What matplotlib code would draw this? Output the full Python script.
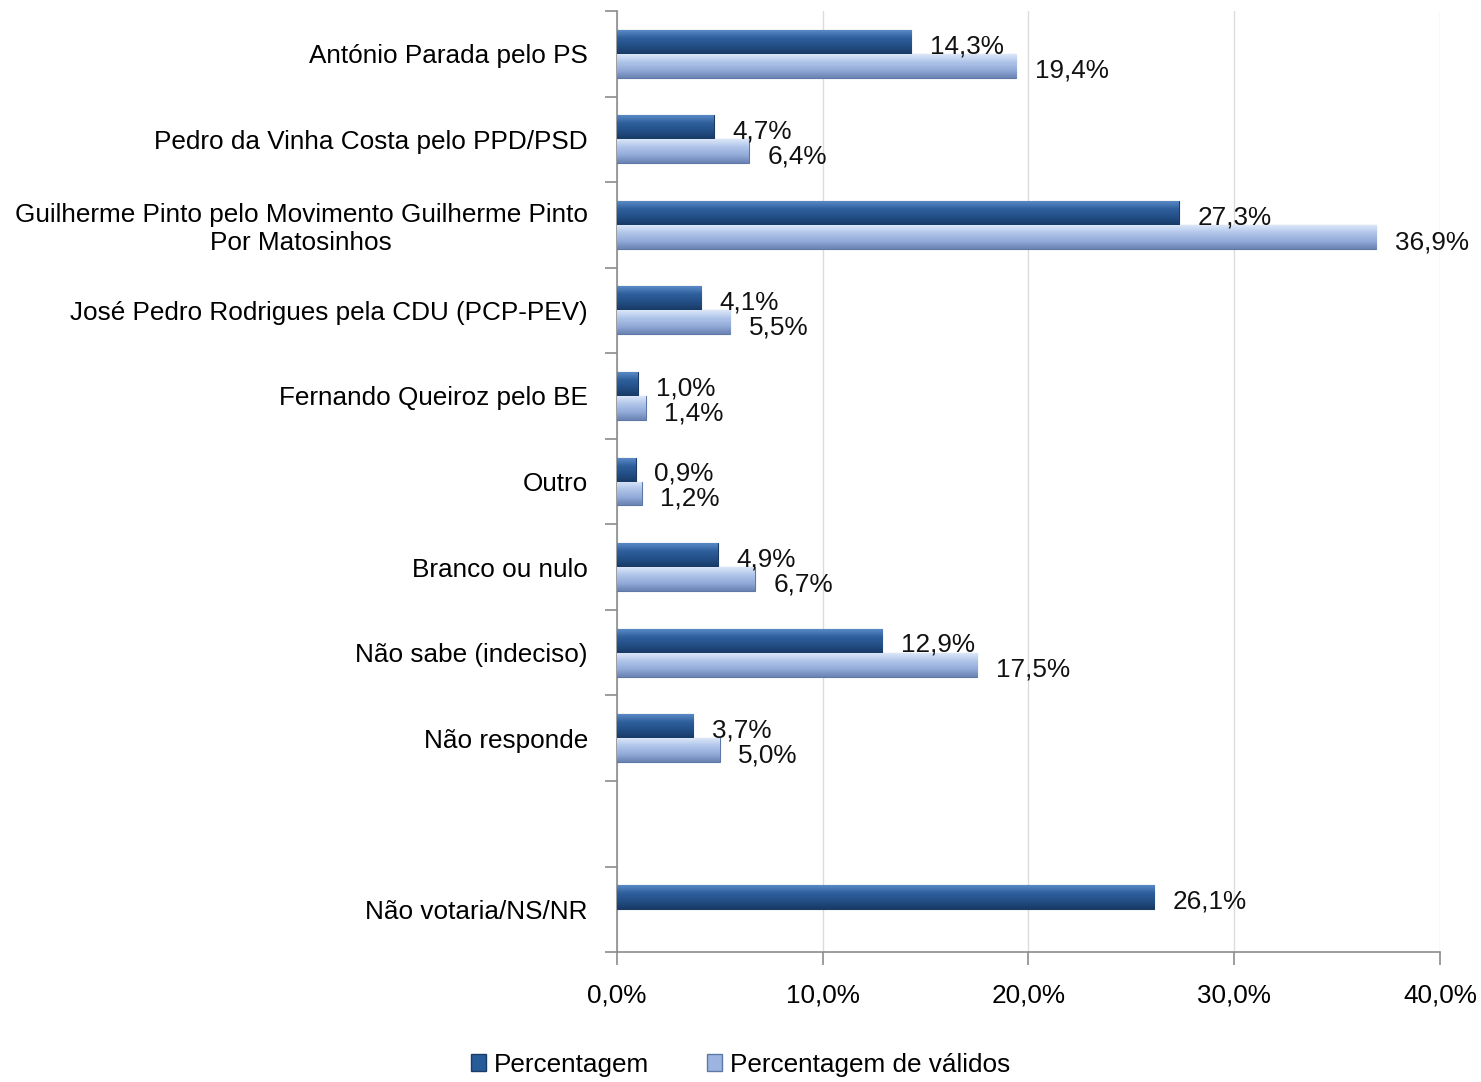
import numpy as np
import matplotlib
matplotlib.use("Agg")
import matplotlib.pyplot as plt
from matplotlib.colors import LinearSegmentedColormap
from matplotlib.patches import Patch
from matplotlib.ticker import FixedLocator, FuncFormatter

plt.rcParams["font.family"] = ["Liberation Sans Narrow", "Liberation Sans", "DejaVu Sans"]

categories = [
    "António Parada pelo PS",
    "Pedro da Vinha Costa pelo PPD/PSD",
    "Guilherme Pinto pelo Movimento Guilherme Pinto\nPor Matosinhos",
    "José Pedro Rodrigues pela CDU (PCP-PEV)",
    "Fernando Queiroz pelo BE",
    "Outro",
    "Branco ou nulo",
    "Não sabe (indeciso)",
    "Não responde",
    "",
    "Não votaria/NS/NR",
]
percentagem = [14.3, 4.7, 27.3, 4.1, 1.0, 0.9, 4.9, 12.9, 3.7, np.nan, 26.1]
validos = [19.4, 6.4, 36.9, 5.5, 1.4, 1.2, 6.7, 17.5, 5.0, np.nan, np.nan]
xticks = [0, 10, 20, 30, 40]

DARK = "#285C99"
LIGHT = "#9DB4E0"
dark_cmap = LinearSegmentedColormap.from_list(
    "dark", ["#5A8AC6", "#2E5F9C", "#234F86", "#183A66"])
light_cmap = LinearSegmentedColormap.from_list(
    "light", ["#DCE7F8", "#AFC4EA", "#93ABD9", "#6A83B2"])
AXIS = "#8C8C8C"
GRID = "#DCDCDC"
FS = 18.8

fig = plt.figure(figsize=(14.81, 10.82), dpi=100)
ax = fig.add_axes([0.4166, 0.1201, 0.9723 - 0.4166, 0.9898 - 0.1201])

y = np.arange(len(categories))
h = 0.28
grad = np.linspace(0, 1, 64).reshape(-1, 1)


def draw(values, offset, color, cmap, edge, dy):
    for yi, v in zip(y, values):
        if np.isnan(v):
            continue
        bar = ax.barh(yi + offset, v, height=h, color=color, edgecolor=edge,
                      linewidth=0.8, zorder=3)[0]
        y0, y1 = yi + offset - h / 2, yi + offset + h / 2
        im = ax.imshow(grad, extent=[0, v, y1, y0], aspect="auto", cmap=cmap,
                       zorder=3.5, interpolation="bicubic")
        im.set_clip_path(bar)
        ax.text(v + 0.9, yi + offset + dy, f"{v:.1f}%".replace(".", ","),
                va="center", ha="left", fontsize=FS, color="#111111", zorder=5)


draw(percentagem, -h / 2, DARK, dark_cmap, "#1B3C66", 0.05)
draw(validos, h / 2, LIGHT, light_cmap, "#5D77A6", 0.06)

ax.set_xlim(0, 40)
ax.set_ylim(len(categories) - 0.5, -0.5)

ax.set_yticks(y)
ax.set_yticklabels(categories, fontsize=FS, multialignment="center")
ax.tick_params(axis="y", which="major", length=0, pad=21)
ax.yaxis.set_minor_locator(FixedLocator(np.arange(-0.5, len(categories), 1.0)))
ax.tick_params(axis="y", which="minor", length=9, color=AXIS, width=1.2)

ax.set_xticks(xticks)
ax.xaxis.set_major_formatter(FuncFormatter(lambda v, p: f"{v:.1f}%".replace(".", ",")))
ax.tick_params(axis="x", length=9, color=AXIS, width=1.2, labelsize=FS, pad=14)
ax.xaxis.grid(True, color=GRID, linewidth=1.0, zorder=0)
ax.set_axisbelow(True)

for s in ("top", "right"):
    ax.spines[s].set_visible(False)
for s in ("left", "bottom"):
    ax.spines[s].set_color(AXIS)
    ax.spines[s].set_linewidth(1.2)

handles = [Patch(facecolor=DARK, edgecolor="#1B3C66", label="Percentagem"),
           Patch(facecolor=LIGHT, edgecolor="#5D77A6", label="Percentagem de válidos")]
fig.legend(handles=handles, loc="lower center", bbox_to_anchor=(0.5, -0.017),
           ncol=2, frameon=False, fontsize=FS, handlelength=0.6, handleheight=0.6,
           handletextpad=0.3, columnspacing=2.2)

fig.savefig("out.png", dpi=100, facecolor="white")
